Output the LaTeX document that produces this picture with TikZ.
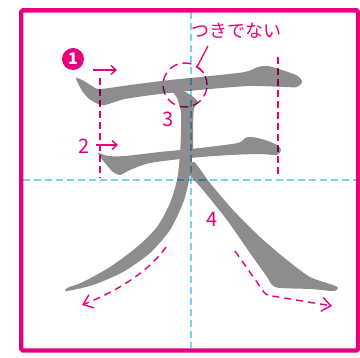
\documentclass[tikz,border=0pt]{standalone}
\usepackage{fontspec}
\newfontfamily\jpfont{Noto Sans CJK JP}
\usetikzlibrary{arrows.meta}
\definecolor{mag}{RGB}{230,0,126}
\definecolor{guide}{RGB}{125,210,240}
\definecolor{glyph}{RGB}{142,140,141}
\tikzset{
  glyphpart/.style={fill=glyph, draw=none},
  blueguide/.style={draw=guide, line width=2.2pt, dash pattern=on 7pt off 4pt, blend mode=multiply},
  magguide/.style={draw=mag, line width=1.6pt, dash pattern=on 7pt off 4pt, blend mode=multiply},
  smallarrow/.style={draw=mag, line width=1.4pt, -{Straight Barb[length=5pt,width=9pt]}},
  bigarrow/.style={draw=mag, line width=1.4pt, dash pattern=on 7pt off 5pt, -{Straight Barb[length=9pt,width=14pt,sep=0pt]}},
  num/.style={text=mag, font=\jpfont\fontsize{20}{20}\selectfont, inner sep=0pt},
}
\begin{document}
\begin{tikzpicture}[x=1pt,y=-1pt]
\useasboundingbox (0,0) rectangle (360,358);
% glyph
\fill[glyphpart] plot[smooth cycle, tension=0.45] coordinates {
 (76,78) (84,81) (92,86) (100,89) (130,85) (170,80) (210,76) (245,72) (258,67) (268,66)
 (285,71) (298,76) (302,82) (297,87) (285,87) (250,86) (210,89) (160,94) (125,99)
 (105,105) (98,104) (88,98) (81,89)};
\fill[glyphpart] plot[smooth cycle, tension=0.45] coordinates {
 (98,153) (108,156) (125,156) (160,152) (200,148) (238,143) (245,138) (252,137) (265,140)
 (277,145) (281,150) (277,155) (260,154) (230,155) (190,158) (150,163) (130,170)
 (120,175) (113,172) (105,163)};
\fill[glyphpart] plot[smooth cycle, tension=0.45] coordinates {
 (172,90) (183,91) (192,96) (198,102) (194,108) (193,125) (193,150) (189,180) (183,203)
 (170,230) (150,253) (123,272) (93,285) (67,291) (67,288) (83,282) (110,267) (137,247)
 (157,227) (170,203) (177,180) (180,155) (181,130) (181,112) (177,98)};
\fill[glyphpart] plot[smooth cycle, tension=0.45] coordinates {
 (188,172) (194,162) (210,183) (233,210) (260,237) (287,260) (310,277) (333,285) (338,288)
 (333,291) (310,289) (280,288) (272,285) (267,277) (250,253) (227,220) (203,190)};
% guides
\draw[blueguide] (191,12.5) -- (191,348);
\draw[blueguide] (23.5,180) -- (356,180);
\draw[magguide] (100,78) -- (100,178);
\draw[magguide] (278,57) -- (278,178);
% frame
\draw[mag, line width=4.3pt, rounded corners=1.5pt] (21.3,10.4) rectangle (358,350.5);
% step number 1
\node[circle, fill=mag, minimum size=22pt, inner sep=0pt, text=white,
      font=\jpfont\bfseries\fontsize{16}{16}\selectfont] (one) at (73,59) {1};
% small arrows
\coordinate (a1s) at (93,70); \coordinate (a1e) at (117,70);
\draw[smallarrow] (a1s) -- (a1e);
\coordinate (a2s) at (96,145); \coordinate (a2e) at (118,145);
\draw[smallarrow] (a2s) -- (a2e);
\node[num] (n2) at (84,146) {2};
\node[num] (n3) at (168,119.5) {3};
\node[num] (n4) at (212,219) {4};
% dashed circle + callout
\node[circle, draw=mag, line width=1.4pt, dash pattern=on 9pt off 5pt, minimum size=44pt,
      inner sep=0pt, blend mode=multiply] (circ) at (185,85) {};
\node[text=mag, font=\jpfont\fontsize{18}{18}\selectfont, inner sep=0pt] (note) at (237,31) {つきでない};
\coordinate (c1) at (208,46); \coordinate (c2) at (197,67); \coordinate (c3) at (204,73);
\draw[mag, line width=1.3pt] (c1) -- (c2) -- (c3);
% bottom dashed arrows
\coordinate (l1) at (166,247); \coordinate (l2) at (82,305);
\draw[bigarrow] (l1) .. controls (150,270) and (120,290) .. (l2);
\coordinate (r1) at (235,251); \coordinate (r2) at (266,295); \coordinate (r3) at (332,306);
\draw[bigarrow, rounded corners=3pt] (r1) -- (r2) -- (r3);
\end{tikzpicture}
\end{document}
